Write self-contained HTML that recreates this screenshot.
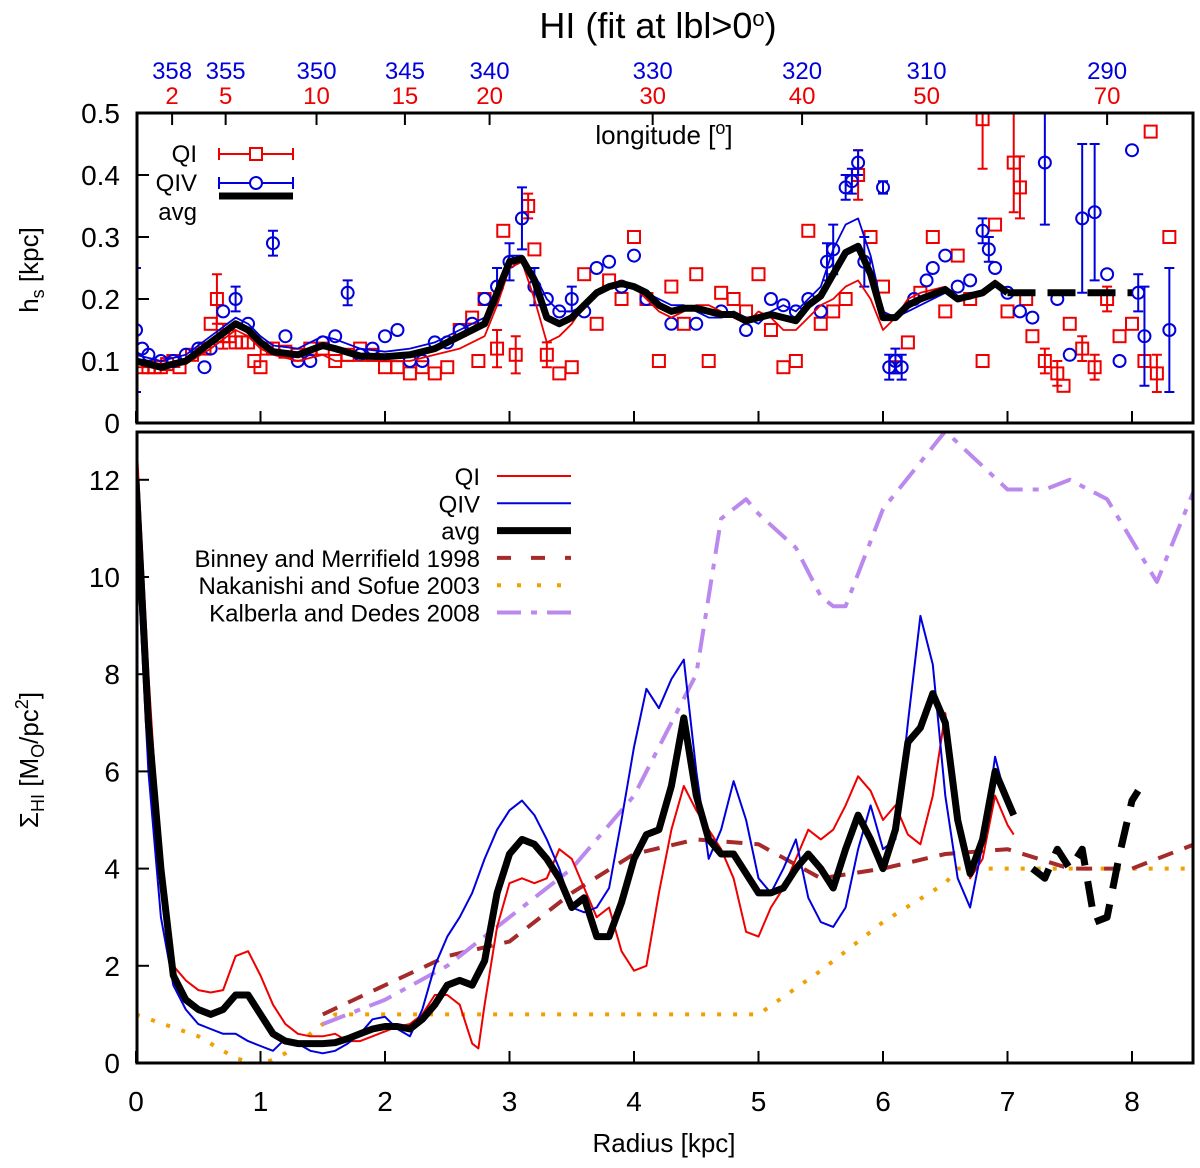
<!DOCTYPE html>
<html><head><meta charset="utf-8"><style>
body{margin:0;background:#fff}
svg{display:block;font-family:"Liberation Sans",sans-serif}
</style></head><body>
<svg id="c" width="1200" height="1168" xmlns="http://www.w3.org/2000/svg">
<text x="658" y="38" font-size="36" text-anchor="middle">HI (fit at lbl&gt;0<tspan dy="-12" font-size="22">o</tspan><tspan dy="12">)</tspan></text>
<text x="664" y="144" font-size="26" text-anchor="middle">longitude [<tspan dy="-10" font-size="18">o</tspan><tspan dy="10">]</tspan></text>
<text transform="translate(38,270) rotate(-90)" font-size="26" text-anchor="middle">h<tspan font-size="18" dy="6">s</tspan><tspan dy="-6"> [kpc]</tspan></text>
<text transform="translate(38,760) rotate(-90)" font-size="26" text-anchor="middle">Σ<tspan font-size="18" dy="6">HI</tspan><tspan dy="-6"> [M</tspan><tspan font-size="18" dy="6">O</tspan><tspan dy="-6">/pc</tspan><tspan font-size="18" dy="-10">2</tspan><tspan dy="10">]</tspan></text>
<text x="664" y="1152" font-size="26" text-anchor="middle">Radius [kpc]</text>
</svg>
<script>
const xTicks=[0,1,2,3,4,5,6,7,8];
const topYTicks=[0,0.1,0.2,0.3,0.4,0.5];
const botYTicks=[0,2,4,6,8,10,12];
const lonR=[2,5,10,15,20,30,40,50,70];
const lonRX=[0.29,0.72,1.45,2.16,2.84,4.15,5.35,6.35,7.8];
const lonB=[358,355,350,345,340,330,320,310,290];
// top panel
const avgTopR=[0,0.2,0.4,0.6,0.8,0.9,1.0,1.1,1.3,1.5,1.6,1.8,2.0,2.2,2.4,2.6,2.8,2.9,3.0,3.1,3.2,3.3,3.4,3.5,3.6,3.7,3.8,3.9,4.0,4.1,4.2,4.3,4.4,4.5,4.6,4.7,4.8,4.9,5.0,5.1,5.2,5.3,5.4,5.5,5.6,5.7,5.8,5.9,6.0,6.1,6.2,6.3,6.5,6.6,6.7,6.8,6.9,7.0];
const avgTopV=[0.10,0.09,0.10,0.13,0.16,0.15,0.13,0.115,0.11,0.125,0.12,0.108,0.107,0.11,0.12,0.14,0.16,0.21,0.26,0.265,0.23,0.17,0.16,0.17,0.19,0.21,0.22,0.225,0.22,0.21,0.19,0.18,0.185,0.185,0.18,0.175,0.175,0.165,0.17,0.175,0.17,0.165,0.19,0.205,0.24,0.275,0.285,0.24,0.17,0.17,0.19,0.2,0.215,0.2,0.205,0.21,0.225,0.21];
const redTopV=[0.09,0.09,0.095,0.12,0.15,0.14,0.12,0.11,0.1,0.11,0.1,0.1,0.1,0.1,0.11,0.12,0.14,0.19,0.25,0.26,0.2,0.13,0.14,0.16,0.19,0.21,0.22,0.23,0.22,0.2,0.18,0.17,0.18,0.19,0.19,0.18,0.17,0.16,0.18,0.17,0.15,0.15,0.17,0.19,0.2,0.22,0.23,0.2,0.15,0.17,0.2,0.21,0.22,0.2,0.2,0.21,0.23,0.21];
const blueTopV=[0.11,0.1,0.11,0.14,0.17,0.16,0.14,0.125,0.12,0.14,0.135,0.12,0.115,0.12,0.13,0.15,0.17,0.22,0.27,0.27,0.24,0.2,0.18,0.18,0.19,0.21,0.22,0.22,0.22,0.21,0.2,0.19,0.19,0.18,0.17,0.17,0.18,0.17,0.16,0.18,0.19,0.18,0.2,0.22,0.28,0.32,0.33,0.27,0.18,0.17,0.18,0.19,0.21,0.2,0.21,0.21,0.22,0.21];
const avgTopExtR=[7.0,8.0];
const avgTopExtV=[0.21,0.21];
const qiR=[0.05,0.1,0.15,0.2,0.25,0.3,0.35,0.45,0.55,0.6,0.65,0.7,0.75,0.8,0.85,0.9,0.95,1.0,1.05,1.1,1.2,1.3,1.4,1.5,1.6,1.7,1.8,1.9,2.0,2.1,2.2,2.3,2.4,2.5,2.6,2.7,2.8,2.75,2.9,2.95,3.05,3.15,3.2,3.3,3.4,3.5,3.6,3.7,3.8,3.9,4.0,4.1,4.2,4.3,4.4,4.5,4.6,4.7,4.8,4.9,5.0,5.1,5.2,5.3,5.4,5.5,5.6,5.7,5.8,5.9,6.0,6.1,6.2,6.3,6.4,6.5,6.6,6.7,6.8,6.8,6.9,7.0,7.05,7.1,7.15,7.2,7.3,7.4,7.5,7.6,7.7,7.8,7.9,8.0,8.1,8.2,8.3,8.15,7.45];
const qiV=[0.09,0.09,0.09,0.09,0.095,0.1,0.09,0.11,0.12,0.16,0.2,0.14,0.14,0.13,0.13,0.13,0.1,0.09,0.12,0.12,0.115,0.11,0.12,0.12,0.1,0.11,0.12,0.11,0.09,0.09,0.08,0.09,0.08,0.09,0.15,0.17,0.2,0.1,0.12,0.31,0.11,0.35,0.28,0.11,0.08,0.09,0.24,0.16,0.23,0.2,0.3,0.2,0.1,0.22,0.16,0.24,0.1,0.21,0.2,0.18,0.24,0.15,0.09,0.1,0.31,0.16,0.18,0.2,0.4,0.3,0.22,0.09,0.13,0.21,0.3,0.18,0.27,0.2,0.1,0.49,0.32,0.18,0.42,0.38,0.2,0.14,0.1,0.08,0.16,0.12,0.09,0.2,0.14,0.16,0.1,0.08,0.3,0.47,0.06];
const qiE=[0,0,0,0,0,0,0,0,0,0,0.04,0.02,0,0,0,0,0,0,0,0,0,0,0,0,0,0,0,0,0,0,0,0,0,0,0,0,0,0,0.03,0,0.03,0.02,0,0.02,0,0,0,0,0,0,0,0,0,0,0,0,0,0,0,0,0,0,0,0,0,0,0,0,0.04,0,0,0,0,0,0,0,0,0,0,0.08,0,0,0.08,0.05,0,0,0.02,0.02,0,0.02,0.02,0.02,0,0,0,0.03,0,0,0];
const qivR=[0,0.05,0.1,0.2,0.3,0.4,0.5,0.55,0.6,0.7,0.8,0.9,1.1,1.2,1.3,1.4,1.5,1.6,1.7,1.8,1.9,2.0,2.1,2.2,2.3,2.4,2.5,2.6,2.7,2.8,2.9,3.0,3.1,3.2,3.3,3.4,3.5,3.6,3.7,3.8,3.9,4.0,4.1,4.3,4.5,4.7,4.9,5.1,5.2,5.3,5.4,5.5,5.55,5.6,5.7,5.75,5.8,5.85,6.0,6.05,6.1,6.15,6.25,6.35,6.4,6.5,6.6,6.7,6.8,6.85,6.9,7.0,7.1,7.2,7.3,7.4,7.5,7.6,7.7,7.8,7.9,8.0,8.05,8.1,8.3];
const qivV=[0.15,0.12,0.11,0.1,0.1,0.11,0.12,0.09,0.12,0.18,0.2,0.16,0.29,0.14,0.1,0.1,0.13,0.14,0.21,0.11,0.12,0.14,0.15,0.1,0.1,0.13,0.13,0.15,0.16,0.2,0.22,0.26,0.33,0.22,0.2,0.18,0.2,0.18,0.25,0.26,0.22,0.27,0.2,0.16,0.16,0.18,0.15,0.2,0.19,0.18,0.2,0.18,0.26,0.28,0.38,0.39,0.42,0.26,0.38,0.09,0.1,0.09,0.2,0.23,0.25,0.27,0.22,0.23,0.31,0.28,0.25,0.21,0.18,0.17,0.42,0.2,0.11,0.33,0.34,0.24,0.1,0.44,0.21,0.14,0.15];
const qivE=[0.1,0,0,0,0,0,0,0,0,0,0.02,0,0.02,0,0,0,0,0,0.02,0,0,0,0,0,0,0,0,0,0,0,0.03,0.03,0.05,0.03,0,0,0.02,0,0,0,0,0,0,0,0,0,0,0,0,0,0,0,0.03,0.04,0.02,0.02,0.02,0.04,0.01,0.02,0.02,0.02,0,0,0,0,0,0,0.02,0.02,0,0,0,0,0.1,0,0,0.12,0.11,0,0,0,0.03,0.08,0.1];
// bottom panel
const avgR=[0,0.1,0.2,0.3,0.4,0.5,0.6,0.7,0.8,0.9,1.0,1.1,1.2,1.3,1.4,1.5,1.6,1.7,1.8,1.9,2.0,2.1,2.2,2.3,2.4,2.5,2.6,2.7,2.8,2.9,3.0,3.1,3.2,3.3,3.4,3.5,3.6,3.7,3.8,3.9,4.0,4.1,4.2,4.3,4.4,4.5,4.6,4.7,4.8,4.9,5.0,5.1,5.2,5.3,5.4,5.5,5.6,5.7,5.8,5.9,6.0,6.1,6.2,6.3,6.4,6.5,6.6,6.7,6.8,6.9,7.0,7.05];
const avgV=[12,7,4,1.8,1.3,1.1,1.0,1.1,1.4,1.4,1.0,0.6,0.45,0.4,0.4,0.4,0.42,0.5,0.6,0.7,0.75,0.75,0.7,0.9,1.2,1.6,1.7,1.6,2.1,3.5,4.3,4.6,4.5,4.2,3.8,3.2,3.4,2.6,2.6,3.3,4.2,4.7,4.8,5.7,7.1,5.5,4.6,4.3,4.3,3.9,3.5,3.5,3.6,4.0,4.3,4.0,3.6,4.4,5.1,4.6,4.0,4.8,6.6,6.9,7.6,7.0,5.0,3.9,4.6,6.0,5.4,5.1];
const avgExtR=[7.2,7.3,7.4,7.5,7.6,7.7,7.8,7.9,8.0,8.05];
const avgExtV=[4.0,3.8,4.4,4.0,4.4,2.9,3.0,4.3,5.4,5.6];
const qiLineR=[0,0.1,0.2,0.3,0.4,0.5,0.6,0.7,0.8,0.9,1.0,1.1,1.2,1.3,1.4,1.5,1.6,1.7,1.8,1.9,2.0,2.1,2.2,2.3,2.4,2.5,2.6,2.7,2.75,2.8,2.9,3.0,3.1,3.2,3.3,3.4,3.5,3.6,3.7,3.8,3.9,4.0,4.1,4.2,4.3,4.4,4.5,4.6,4.7,4.8,4.9,5.0,5.1,5.2,5.3,5.4,5.5,5.6,5.7,5.8,5.9,6.0,6.1,6.2,6.3,6.4,6.5,6.6,6.7,6.8,6.9,7.0,7.05];
const qiLineV=[13,8,4,2.0,1.7,1.5,1.45,1.5,2.2,2.3,1.8,1.2,0.8,0.6,0.55,0.55,0.6,0.45,0.45,0.55,0.65,0.75,0.8,1.0,1.4,1.4,1.2,0.4,0.3,1.2,2.8,3.7,3.8,3.7,3.8,4.4,4.2,3.6,3.0,3.2,2.3,1.9,2.0,3.5,4.8,5.7,5.2,4.8,4.4,3.8,2.7,2.6,3.2,3.6,4.2,4.8,4.6,4.8,5.3,5.9,5.6,5.0,5.3,4.7,4.5,5.5,7.2,5.0,3.8,4.2,5.5,4.9,4.7];
const qivLineR=[0,0.1,0.2,0.3,0.4,0.5,0.6,0.7,0.8,0.9,1.0,1.1,1.2,1.3,1.4,1.5,1.6,1.7,1.8,1.9,2.0,2.1,2.2,2.3,2.4,2.5,2.6,2.7,2.8,2.9,3.0,3.1,3.2,3.3,3.4,3.5,3.6,3.7,3.8,3.9,4.0,4.1,4.2,4.3,4.4,4.5,4.6,4.7,4.8,4.9,5.0,5.1,5.2,5.3,5.4,5.5,5.6,5.7,5.8,5.9,6.0,6.1,6.2,6.3,6.4,6.5,6.6,6.7,6.8,6.9,7.0];
const qivLineV=[11,6,3,1.6,1.1,0.8,0.7,0.6,0.6,0.45,0.35,0.25,0.5,0.4,0.25,0.2,0.25,0.4,0.6,0.9,0.95,0.7,0.55,1.1,2.0,2.6,3.0,3.5,4.2,4.8,5.2,5.4,5.1,4.6,4.0,3.2,3.1,3.2,3.6,5.0,6.5,7.7,7.3,7.9,8.3,6.0,4.2,4.8,5.8,5.0,3.8,3.5,4.0,4.6,3.4,2.9,2.8,3.2,4.4,5.3,4.4,4.6,7.0,9.2,8.2,5.5,3.8,3.2,4.5,6.3,5.3];
const bmR=[1.5,2.0,2.5,3.0,3.5,4.0,4.5,5.0,5.5,6.0,6.5,7.0,7.5,8.0,8.5];
const bmV=[1.0,1.6,2.2,2.5,3.5,4.3,4.6,4.5,3.8,4.0,4.3,4.4,4.0,4.0,4.5];
const nsR=[0,0.5,0.8,1.0,1.2,1.4,1.6,5.0,5.5,6.0,6.5,6.6,8.5];
const nsV=[1.0,0.55,0.1,-0.05,0.2,0.6,1.0,1.0,1.9,2.9,3.7,4.0,4.0];
const kdR=[1.5,2.0,2.5,3.0,3.5,4.0,4.5,4.7,4.9,5.0,5.3,5.5,5.6,5.7,6.0,6.5,7.0,7.3,7.5,7.8,8.2,8.5];
const kdV=[0.8,1.3,2.0,3.0,4.0,5.5,8.0,11.2,11.6,11.3,10.6,9.6,9.4,9.4,11.4,13.0,11.8,11.8,12.0,11.6,9.9,11.8];

const NS='http://www.w3.org/2000/svg';
const svg=document.getElementById('c');
const X0=136,XS=124.5;
const x=r=>X0+r*XS;
const yT=v=>423-v*620;
const yB=v=>1063-v*48.6;
function el(t,a,p){const e=document.createElementNS(NS,t);for(const k in a)e.setAttribute(k,a[k]);(p||svg).appendChild(e);return e;}
const defs=el('defs',{});
const cpT=el('clipPath',{id:'cpT'},defs);el('rect',{x:137,y:114,width:1056,height:309},cpT);
const cpB=el('clipPath',{id:'cpB'},defs);el('rect',{x:137,y:433,width:1056,height:629},cpB);
const gT=el('g',{'clip-path':'url(#cpT)'});


const gB=el('g',{'clip-path':'url(#cpB)'});


function line(g,R,V,yf,st,name){
  const d=R.map((r,i)=>(i?'L':'M')+x(r).toFixed(1)+','+yf(V[i]).toFixed(1)).join('');
  const p=el('path',Object.assign({d:d,fill:'none','stroke-linejoin':'round'},st),g);
  
  
}
function pts(R,V,E,col,shape,name){
  R.forEach((r,i)=>{
    const cx=x(r),cy=yT(V[i]);
    if(E[i]>0){
      const a=yT(V[i]+E[i]),b=yT(V[i]-E[i]);
      const p=el('path',{d:`M${cx},${a}V${b}M${cx-5},${a}H${cx+5}M${cx-5},${b}H${cx+5}`,stroke:col,'stroke-width':2,fill:'none'},gT);
      
      
    }
    let m;
    if(shape==='sq') m=el('rect',{x:cx-6,y:cy-6,width:12,height:12,fill:'none',stroke:col,'stroke-width':2},gT);
    else m=el('circle',{cx:cx,cy:cy,r:6,fill:'none',stroke:col,'stroke-width':2},gT);
    
    
  });
}
pts(qiR,qiV,qiE,'#e00','sq','qi');
pts(qivR,qivV,qivE,'#00d','ci','qiv');
line(gT,avgTopR,redTopV,yT,{stroke:'#e00','stroke-width':1.8},'qi-top-line');
line(gT,avgTopR,blueTopV,yT,{stroke:'#00d','stroke-width':1.8},'qiv-top-line');
line(gT,avgTopR,avgTopV,yT,{stroke:'#000','stroke-width':7},'avg-top-line');
line(gT,avgTopExtR,avgTopExtV,yT,{stroke:'#000','stroke-width':7,'stroke-dasharray':'28,12'},'avg-top-extension');
line(gB,nsR,nsV,yB,{stroke:'#f0a000','stroke-width':4,'stroke-dasharray':'4,12'},'nakanishi-sofue-line');
line(gB,bmR,bmV,yB,{stroke:'#a52a2a','stroke-width':4,'stroke-dasharray':'16,12'},'binney-merrifield-line');
line(gB,kdR,kdV,yB,{stroke:'#bb88ee','stroke-width':4,'stroke-dasharray':'24,10,6,10'},'kalberla-dedes-line');
line(gB,qiLineR,qiLineV,yB,{stroke:'#e00','stroke-width':2},'qi-line');
line(gB,qivLineR,qivLineV,yB,{stroke:'#00d','stroke-width':2},'qiv-line');
line(gB,avgR,avgV,yB,{stroke:'#000','stroke-width':7},'avg-line');
line(gB,avgExtR,avgExtV,yB,{stroke:'#000','stroke-width':7,'stroke-dasharray':'26,16'},'avg-extension');
const f1=el('rect',{x:137,y:113,width:1056,height:310,fill:'none',stroke:'#000','stroke-width':3});

const f2=el('rect',{x:137,y:432,width:1056,height:631,fill:'none',stroke:'#000','stroke-width':3});

function txt(s,a,name,size,col){const t=el('text',Object.assign({'font-size':size||28,fill:col||'#000'},a));t.textContent=s;return t;}
xTicks.forEach(r=>{
  const t=el('path',{d:`M${x(r)},1063v-12M${x(r)},423v-12`,stroke:'#000','stroke-width':2});
  
  txt(String(r),{x:x(r),y:1111,'text-anchor':'middle'},'x-tick-label');
});
topYTicks.forEach(v=>{
  if(v>0){const t=el('path',{d:`M137,${yT(v)}h12`,stroke:'#000','stroke-width':2});}
  txt(String(v),{x:120,y:yT(v)+10,'text-anchor':'end'},'top-y-tick-label');
});
botYTicks.forEach(v=>{
  if(v>0){const t=el('path',{d:`M137,${yB(v)}h12`,stroke:'#000','stroke-width':2});}
  txt(String(v),{x:120,y:yB(v)+10,'text-anchor':'end'},'bottom-y-tick-label');
});
lonRX.forEach((r,i)=>{
  const t=el('path',{d:`M${x(r)},113v12`,stroke:'#000','stroke-width':2});
  txt(String(lonB[i]),{x:x(r),y:79,'text-anchor':'middle'},'longitude-qiv-label',24,'#00d');
  txt(String(lonR[i]),{x:x(r),y:104,'text-anchor':'middle'},'longitude-qi-label',24,'#e00');
});
txt('QI',{x:197,y:162,'text-anchor':'end'},'legend-qi-label',24);
txt('QIV',{x:197,y:191,'text-anchor':'end'},'legend-qiv-label',24);
txt('avg',{x:197,y:220,'text-anchor':'end'},'legend-avg-label',24);
el('path',{d:'M219,154h74M219,148v12M293,148v12',stroke:'#e00','stroke-width':2});
el('rect',{x:250,y:148,width:12,height:12,fill:'#fff',stroke:'#e00','stroke-width':2});
el('path',{d:'M219,183h74M219,177v12M293,177v12',stroke:'#00d','stroke-width':2});
el('circle',{cx:256,cy:183,r:6,fill:'#fff',stroke:'#00d','stroke-width':2});
el('path',{d:'M219,196h74',stroke:'#000','stroke-width':7});
const leg=[['QI','#e00',2,''],['QIV','#00d',2,''],['avg','#000',7,''],['Binney and Merrifield 1998','#a52a2a',4,'14,20'],['Nakanishi and Sofue 2003','#f0a000',4,'4,16'],['Kalberla and Dedes 2008','#bb88ee',4,'24,10,6,10']];
leg.forEach((l,i)=>{
  const yy=476+i*27.3;
  txt(l[0],{x:480,y:yy+9,'text-anchor':'end'},'legend-entry-label',24);
  const p=el('path',{d:`M497,${yy}h74`,stroke:l[1],'stroke-width':l[2],'stroke-dasharray':l[3]||'none'});
  
});
</script>
</body></html>
